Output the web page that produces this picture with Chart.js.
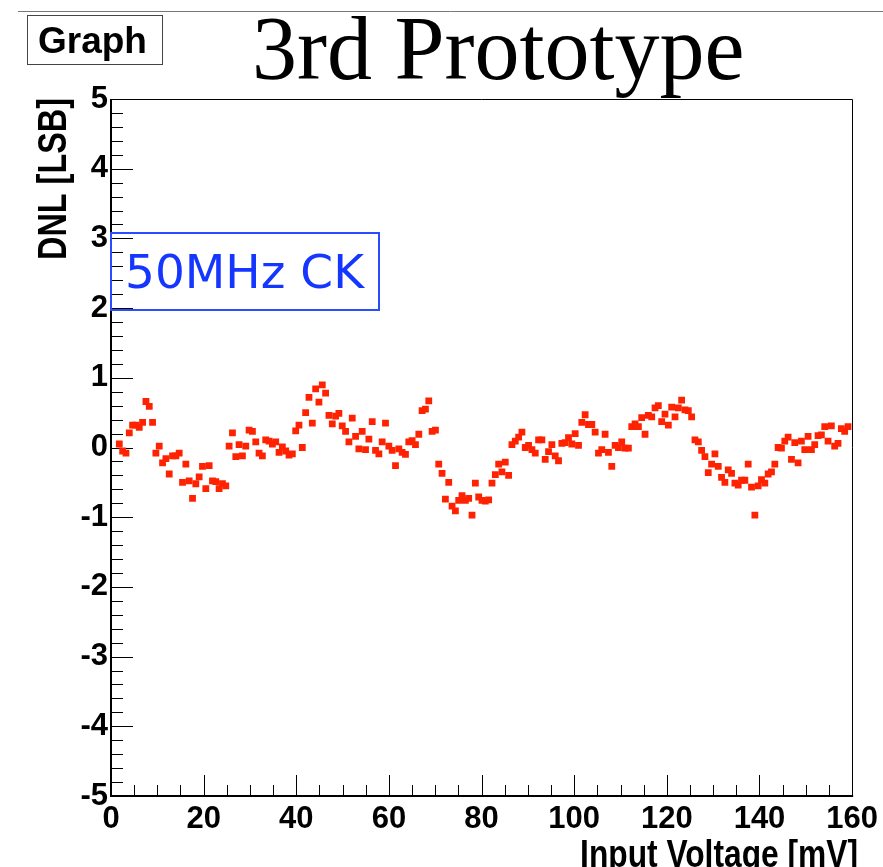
<!DOCTYPE html>
<html>
<head>
<meta charset="utf-8">
<script src="https://cdn.jsdelivr.net/npm/chart.js@4.4.1/dist/chart.umd.min.js"></script>
<style>
  body { margin: 0; background: #fff; }
  canvas { display: block; }
</style>
</head>
<body>
<canvas id="dnlChart" width="883" height="867"></canvas>
<script>
// input voltage of each code bin [mV]
const inputVoltage = [
  1.79, 2.51, 3.23, 3.95, 4.66, 5.38, 6.10, 6.82, 7.54, 8.26,
  8.97, 9.69, 10.41, 11.13, 11.85, 12.57, 13.29, 14.01, 14.72, 15.44,
  16.16, 16.88, 17.60, 18.31, 19.03, 19.75, 20.47, 21.19, 21.91, 22.62,
  23.34, 24.06, 24.78, 25.50, 26.22, 26.94, 27.65, 28.37, 29.09, 29.81,
  30.53, 31.25, 31.96, 32.68, 33.40, 34.12, 34.84, 35.56, 36.28, 36.99,
  37.71, 38.43, 39.15, 39.87, 40.58, 41.30, 42.02, 42.74, 43.46, 44.18,
  44.89, 45.61, 46.33, 47.05, 47.77, 48.49, 49.20, 49.92, 50.64, 51.36,
  52.08, 52.80, 53.51, 54.23, 54.95, 55.67, 56.39, 57.11, 57.83, 58.54,
  59.26, 59.98, 60.70, 61.42, 62.14, 62.85, 63.57, 64.29, 65.01, 65.73,
  66.45, 67.16, 67.88, 68.60, 69.32, 70.04, 70.75, 71.47, 72.19, 72.91,
  73.63, 74.35, 75.06, 75.78, 76.50, 77.22, 77.94, 78.66, 79.38, 80.09,
  80.81, 81.53, 82.25, 82.97, 83.69, 84.40, 85.12, 85.84, 86.56, 87.28,
  88.00, 88.71, 89.43, 90.15, 90.87, 91.59, 92.31, 93.02, 93.74, 94.46,
  95.18, 95.90, 96.61, 97.33, 98.05, 98.77, 99.49, 100.21, 100.93, 101.64,
  102.36, 103.08, 103.80, 104.52, 105.24, 105.95, 106.67, 107.39, 108.11, 108.83,
  109.55, 110.26, 110.98, 111.70, 112.42, 113.14, 113.86, 114.57, 115.29, 116.01,
  116.73, 117.45, 118.16, 118.88, 119.60, 120.32, 121.04, 121.76, 122.48, 123.19,
  123.91, 124.63, 125.35, 126.07, 126.79, 127.50, 128.22, 128.94, 129.66, 130.38,
  131.10, 131.81, 132.53, 133.25, 133.97, 134.69, 135.40, 136.12, 136.84, 137.56,
  138.28, 139.00, 139.71, 140.43, 141.15, 141.87, 142.59, 143.31, 144.02, 144.74,
  145.46, 146.18, 146.90, 147.61, 148.33, 149.05, 149.77, 150.49, 151.21, 151.92,
  152.64, 153.36, 154.08, 154.80, 155.51, 156.23, 156.95, 157.67, 158.39, 159.11
];

// DNL [LSB]
const dnl = [
  0.05, -0.05, -0.08, 0.21, 0.32, 0.32, 0.29, 0.36, 0.66, 0.59,
  0.36, -0.08, 0.02, -0.22, -0.16, -0.38, -0.12, -0.12, -0.08, -0.50,
  -0.24, -0.48, -0.73, -0.52, -0.42, -0.27, -0.59, -0.26, -0.48, -0.49,
  -0.59, -0.52, -0.55, 0.02, 0.21, -0.13, 0.04, -0.12, 0.02, 0.25,
  0.23, 0.08, -0.08, -0.12, 0.11, 0.09, 0.05, 0.08, -0.07, 0.01,
  -0.05, -0.11, -0.09, 0.24, 0.32, 0.00, 0.50, 0.72, 0.35, 0.84,
  0.65, 0.90, 0.78, 0.46, 0.34, 0.45, 0.49, 0.31, 0.23, 0.08,
  0.42, 0.16, -0.02, 0.23, -0.03, 0.12, 0.37, -0.04, -0.09, 0.08,
  0.35, 0.02, -0.04, -0.26, -0.02, -0.07, -0.10, 0.08, 0.10, 0.04,
  0.19, 0.53, 0.55, 0.67, 0.23, 0.25, -0.24, -0.37, -0.74, -0.50,
  -0.84, -0.91, -0.76, -0.69, -0.76, -0.73, -0.97, -0.51, -0.71, -0.76,
  -0.77, -0.75, -0.51, -0.39, -0.24, -0.35, -0.21, -0.40, 0.04, 0.09,
  0.15, 0.22, 0.00, 0.03, -0.03, -0.08, 0.11, 0.11, -0.17, -0.06,
  0.04, -0.12, -0.19, 0.06, 0.07, 0.14, 0.05, 0.20, 0.03, 0.36,
  0.47, 0.33, 0.33, 0.22, -0.08, -0.03, 0.19, -0.07, -0.27, 0.03,
  0.00, 0.08, -0.01, -0.01, 0.30, 0.34, 0.30, 0.43, 0.19, 0.46,
  0.44, 0.57, 0.60, 0.37, 0.48, 0.32, 0.58, 0.44, 0.57, 0.68,
  0.54, 0.53, 0.44, 0.11, 0.08, -0.04, -0.13, -0.36, -0.24, -0.09,
  -0.27, -0.43, -0.50, -0.32, -0.37, -0.51, -0.54, -0.47, -0.47, -0.24,
  -0.57, -0.97, -0.55, -0.46, -0.51, -0.38, -0.35, -0.24, 0.00, -0.01,
  0.09, 0.15, -0.17, 0.07, -0.22, 0.09, -0.03, 0.16, -0.03, 0.04,
  0.17, 0.18, 0.30, 0.09, 0.31, 0.02, 0.06, 0.27, 0.23, 0.30
];

const xRange = [0, 160];
const yRange = [-5, 5];
const chartTitle = '3rd Prototype';
const xTitle = 'Input Voltage [mV]';
const yTitle = 'DNL [LSB]';
const graphLabel = 'Graph';
const clockLabel = '50MHz CK';

const sans = "'Liberation Sans', Arial, Helvetica, sans-serif";

// ROOT style frame: inner ticks, thin box, top pad line, labels
const rootFrame = {
  id: 'rootFrame',
  beforeDatasetsDraw(chart) {
    const {ctx, chartArea: a, scales: {x, y}} = chart;
    ctx.save();
    ctx.strokeStyle = '#000';
    ctx.lineWidth = 1;
    ctx.beginPath();
    for (let v = xRange[0]; v <= xRange[1]; v += 5) {
      const px = Math.round(x.getPixelForValue(v)) + 0.5;
      const len = v % 20 === 0 ? 21 : 11;
      ctx.moveTo(px, a.bottom);
      ctx.lineTo(px, a.bottom - len);
    }
    for (let i = yRange[0] * 5; i <= yRange[1] * 5; i++) {
      const py = Math.round(y.getPixelForValue(i / 5)) + 0.5;
      const len = i % 5 === 0 ? 22 : 12;
      ctx.moveTo(a.left, py);
      ctx.lineTo(a.left + len, py);
    }
    ctx.stroke();

    ctx.beginPath();
    ctx.moveTo(a.left, Math.round(a.top) + 0.5);
    ctx.lineTo(Math.round(a.right) + 0.5, Math.round(a.top) + 0.5);
    ctx.lineTo(Math.round(a.right) + 0.5, a.bottom);
    ctx.stroke();

    ctx.lineWidth = 2;
    ctx.beginPath();
    ctx.moveTo(a.left, a.top);
    ctx.lineTo(a.left, a.bottom);
    ctx.lineTo(a.right + 1, a.bottom);
    ctx.stroke();
    ctx.restore();
  },
  afterDraw(chart) {
    const {ctx, chartArea: a} = chart;
    ctx.save();
    // pad edge line
    ctx.strokeStyle = '#777';
    ctx.lineWidth = 1;
    ctx.beginPath();
    ctx.moveTo(18, 11.5);
    ctx.lineTo(883, 11.5);
    ctx.stroke();

    // "Graph" label box
    ctx.fillStyle = '#fff';
    ctx.fillRect(27, 15, 135, 49);
    ctx.strokeStyle = '#444';
    ctx.strokeRect(27.5, 15.5, 135, 49);
    ctx.fillStyle = '#000';
    ctx.font = 'bold 37px ' + sans;
    ctx.textBaseline = 'alphabetic';
    ctx.textAlign = 'left';
    ctx.fillText(graphLabel, 38, 53);

    // title
    ctx.font = "90px 'Liberation Serif', 'Times New Roman', serif";
    ctx.fillText(chartTitle, 252, 79);

    // axis titles (ROOT's narrow bold helvetica)
    ctx.font = 'bold 38px ' + sans;
    ctx.textAlign = 'right';
    ctx.save();
    ctx.translate(858, 867);
    ctx.scale(0.835, 1);
    ctx.fillText(xTitle, 0, 0);
    ctx.restore();

    ctx.save();
    ctx.font = 'bold 40px ' + sans;
    ctx.translate(66, a.top - 1);
    ctx.rotate(-Math.PI / 2);
    ctx.scale(0.81, 1);
    ctx.fillText(yTitle, 0, 0);
    ctx.restore();

    // clock label box
    ctx.textAlign = 'left';
    ctx.strokeStyle = '#2a4cff';
    ctx.lineWidth = 2;
    ctx.strokeRect(111, 233, 268, 77);
    ctx.fillStyle = '#1536ff';
    ctx.font = "47px 'DejaVu Sans', Verdana, sans-serif";
    ctx.fillText(clockLabel, 125, 288);
    ctx.restore();
  }
};

const points = inputVoltage.map((v, i) => ({x: v, y: dnl[i]}));

new Chart(document.getElementById('dnlChart'), {
  type: 'scatter',
  data: {
    datasets: [{
      data: points,
      pointStyle: 'rect',
      pointRadius: 4.8,
      pointBorderWidth: 0,
      backgroundColor: '#ff2200',
      borderColor: '#ff2200'
    }]
  },
  options: {
    responsive: false,
    animation: false,
    devicePixelRatio: 1,
    layout: { padding: { top: 99, right: 29.5, left: 0, bottom: 0 } },
    plugins: { legend: { display: false }, tooltip: { enabled: false } },
    scales: {
      x: {
        type: 'linear',
        min: xRange[0], max: xRange[1],
        grid: { display: false, drawTicks: false },
        border: { display: false },
        ticks: {
          stepSize: 20,
          padding: 5,
          color: '#000',
          maxRotation: 0,
          font: { family: sans, weight: 'bold', size: 31 }
        },
        afterFit(scale) { scale.height = 71; }
      },
      y: {
        type: 'linear',
        min: yRange[0], max: yRange[1],
        grid: { display: false, drawTicks: false },
        border: { display: false },
        ticks: {
          stepSize: 1,
          padding: 3,
          color: '#000',
          font: { family: sans, weight: 'bold', size: 31 }
        },
        afterFit(scale) { scale.width = 111; }
      }
    }
  },
  plugins: [rootFrame]
});
</script>
</body>
</html>
